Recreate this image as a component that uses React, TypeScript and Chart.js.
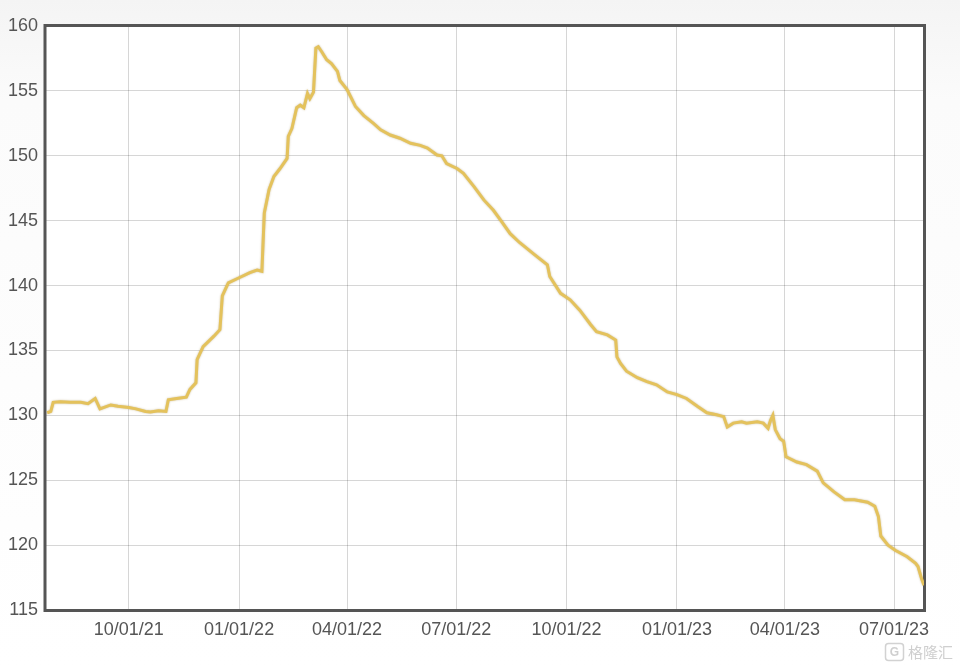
import React, { useEffect, useRef } from "react";
import { Chart, registerables } from "chart.js";

Chart.register(...registerables);

const dates: string[] = [
  "2021-07-25","2021-07-28","2021-07-30","2021-08-05","2021-08-13","2021-08-22","2021-08-28","2021-09-03","2021-09-07","2021-09-16",
  "2021-09-22","2021-10-01","2021-10-07","2021-10-15","2021-10-19","2021-10-26","2021-11-01","2021-11-03","2021-11-10","2021-11-18",
  "2021-11-21","2021-11-26","2021-11-27","2021-12-02","2021-12-11","2021-12-16","2021-12-18","2021-12-23","2022-01-01","2022-01-10",
  "2022-01-16","2022-01-20","2022-01-22","2022-01-26","2022-01-30","2022-02-04","2022-02-10","2022-02-11","2022-02-14","2022-02-18",
  "2022-02-21","2022-02-24","2022-02-27","2022-03-01","2022-03-04","2022-03-06","2022-03-08","2022-03-11","2022-03-15","2022-03-19",
  "2022-03-24","2022-03-26","2022-04-01","2022-04-08","2022-04-15","2022-04-23","2022-04-29","2022-05-07","2022-05-15","2022-05-24",
  "2022-06-01","2022-06-07","2022-06-15","2022-06-19","2022-06-23","2022-07-02","2022-07-07","2022-07-16","2022-07-24","2022-08-01",
  "2022-08-07","2022-08-15","2022-08-23","2022-09-04","2022-09-15","2022-09-17","2022-09-26","2022-10-04","2022-10-12","2022-10-21",
  "2022-10-26","2022-11-04","2022-11-11","2022-11-12","2022-11-15","2022-11-20","2022-11-29","2022-12-07","2022-12-15","2022-12-24",
  "2023-01-01","2023-01-09","2023-01-18","2023-01-26","2023-02-03","2023-02-09","2023-02-12","2023-02-17","2023-02-24","2023-02-28",
  "2023-03-09","2023-03-14","2023-03-18","2023-03-20","2023-03-22","2023-03-24","2023-03-28","2023-03-31","2023-04-02","2023-04-11",
  "2023-04-19","2023-04-28","2023-05-03","2023-05-12","2023-05-21","2023-05-29","2023-06-09","2023-06-15","2023-06-18","2023-06-20",
  "2023-06-26","2023-07-02","2023-07-12","2023-07-19","2023-07-21","2023-07-24","2023-07-26",
];

const values: number[] = [
  130.2,130.3,131.0,131.05,131.0,131.0,130.9,131.3,130.5,130.8,
  130.7,130.6,130.5,130.3,130.25,130.35,130.3,131.2,131.3,131.4,
  132.0,132.5,134.3,135.3,136.1,136.6,139.2,140.2,140.6,141.0,
  141.2,141.1,145.6,147.4,148.4,149.0,149.8,151.5,152.1,153.7,
  153.9,153.7,154.8,154.4,154.9,158.3,158.4,158.0,157.4,157.1,
  156.5,155.8,155.1,153.8,153.1,152.5,152.0,151.6,151.35,150.96,
  150.8,150.6,150.06,150.0,149.4,149.0,148.65,147.6,146.6,145.8,
  145.05,144.0,143.3,142.4,141.6,140.7,139.4,138.9,138.1,137.0,
  136.45,136.2,135.8,134.5,134.0,133.4,132.9,132.6,132.35,131.8,
  131.6,131.3,130.7,130.2,130.05,129.9,129.1,129.4,129.5,129.4,
  129.5,129.4,129.0,129.6,130.0,128.9,128.2,128.0,126.8,126.4,
  126.2,125.7,124.8,124.1,123.5,123.5,123.3,123.0,122.2,120.7,
  120.0,119.6,119.1,118.6,118.35,117.4,116.9,
];

const tickDates: string[] = [
  "2021-10-01","2022-01-01","2022-04-01","2022-07-01","2022-10-01","2023-01-01","2023-04-01","2023-07-01",
];
const tickLabels: string[] = [
  "10/01/21","01/01/22","04/01/22","07/01/22","10/01/22","01/01/23","04/01/23","07/01/23",
];
const xStart = "2021-07-24";
const xEnd = "2023-07-26";
const yMin = 115;
const yMax = 160;
const yStep = 5;
const watermark = "格隆汇";

const DAY = 86400000;
const BASE = Date.UTC(2021, 9, 1);
function dayNum(s: string): number {
  const [y, m, d] = s.split("-").map(Number);
  return (Date.UTC(y, m - 1, d) - BASE) / DAY;
}

export default function App() {
  const ref = useRef<HTMLCanvasElement | null>(null);
  useEffect(() => {
    if (!ref.current) return;
    const tickVals = tickDates.map(dayNum);
    const framePlugin = {
      id: "frame",
      beforeDraw(chart: any) {
        const { ctx, chartArea: a, width, height } = chart;
        ctx.save();
        const g = ctx.createLinearGradient(0, 0, 0, height);
        g.addColorStop(0, "#f4f4f4");
        g.addColorStop(0.15, "#fbfbfb");
        g.addColorStop(1, "#ffffff");
        ctx.fillStyle = g;
        ctx.fillRect(0, 0, width, height);
        ctx.fillStyle = "#ffffff";
        ctx.fillRect(a.left, a.top, a.right - a.left, a.bottom - a.top);
        ctx.restore();
      },
      beforeDatasetsDraw(chart: any) {
        const { ctx, chartArea: a } = chart;
        ctx.save();
        ctx.strokeStyle = "#555555";
        ctx.lineWidth = 3;
        ctx.strokeRect(a.left - 1, a.top - 0.5, a.right - a.left + 1.5, a.bottom - a.top + 1);
        ctx.restore();
      },
      beforeDatasetDraw(chart: any) {
        const ctx = chart.ctx;
        ctx.save();
        ctx.shadowColor = "rgba(140,110,30,0.45)";
        ctx.shadowBlur = 2;
      },
      afterDatasetDraw(chart: any) {
        chart.ctx.restore();
      },
      afterDraw(chart: any) {
        const { ctx } = chart;
        ctx.save();
        ctx.strokeStyle = "#d2d2d2";
        ctx.lineWidth = 1.5;
        ctx.beginPath();
        ctx.roundRect(885.5, 643.5, 18, 17, 3);
        ctx.stroke();
        ctx.fillStyle = "#cfcfcf";
        ctx.font = "bold 12px 'Liberation Sans', sans-serif";
        ctx.textAlign = "center";
        ctx.textBaseline = "middle";
        ctx.fillText("G", 894.5, 652.5);
        ctx.font = "15px 'Noto Sans CJK SC', sans-serif";
        ctx.textAlign = "left";
        ctx.fillText(watermark, 908, 652);
        ctx.restore();
      },
    };
    const chart = new Chart(ref.current, {
      type: "line",
      data: {
        datasets: [
          {
            data: dates.map((d, i) => ({ x: dayNum(d), y: values[i] })),
            borderColor: "#e4c25c",
            borderWidth: 3,
            pointRadius: 0,
            tension: 0,
            fill: false,
          },
        ],
      },
      options: {
        responsive: false,
        animation: false,
        events: [],
        layout: { padding: { left: 0, top: 26, right: 36, bottom: 0 } },
        plugins: { legend: { display: false }, tooltip: { enabled: false } },
        scales: {
          x: {
            type: "linear",
            min: dayNum(xStart),
            max: dayNum(xEnd),
            afterBuildTicks: (scale: any) => {
              scale.ticks = tickVals.map((v) => ({ value: v }));
            },
            afterFit: (scale: any) => {
              scale.height = 58;
            },
            grid: { color: "rgba(0,0,0,0.16)", lineWidth: 1, drawTicks: false },
            border: { display: false },
            ticks: {
              padding: 9,
              color: "#555555",
              font: { size: 18, family: "'Liberation Sans', Arial, sans-serif" },
              maxRotation: 0,
              autoSkip: false,
              callback: (v: any) => {
                const i = tickVals.indexOf(Number(v));
                return i >= 0 ? tickLabels[i] : "";
              },
            },
          },
          y: {
            min: yMin,
            max: yMax,
            afterFit: (scale: any) => {
              scale.width = 46;
            },
            grid: { color: "rgba(0,0,0,0.16)", lineWidth: 1, drawTicks: false },
            border: { display: false },
            ticks: {
              stepSize: yStep,
              padding: 8,
              color: "#555555",
              font: { size: 18, family: "'Liberation Sans', Arial, sans-serif" },
            },
          },
        },
      },
      plugins: [framePlugin],
    } as any);
    return () => chart.destroy();
  }, []);
  return (
    <div style={{ position: "fixed", left: 0, top: 0, width: 960, height: 668 }}>
      <canvas ref={ref} width={960} height={668} style={{ width: 960, height: 668, display: "block" }} />
    </div>
  );
}
